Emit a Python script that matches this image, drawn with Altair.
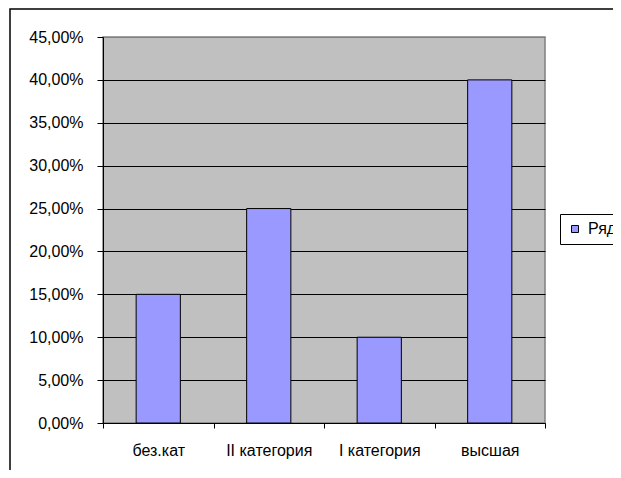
import json
import altair as alt
import pandas as pd

categories = ["без.кат", "II категория", "I категория", "высшая"]
values = [0.15, 0.25, 0.10, 0.40]
series_name = "Ряд1"
y_tick_values = [0, 0.05, 0.10, 0.15, 0.20, 0.25, 0.30, 0.35, 0.40, 0.45]
x_tick_values = [0, 0.5, 1, 1.5, 2, 2.5, 3, 3.5, 4]

df = pd.DataFrame({"cat": categories, "val": values, "series": [series_name] * len(categories)})

FONT = "Liberation Sans"
cats_js = json.dumps(categories, ensure_ascii=False)

bars = (
    alt.Chart(df)
    .transform_window(rn="row_number()")
    .transform_calculate(x0="datum.rn - 0.7", x1="datum.rn - 0.3")
    .mark_bar(stroke="black", strokeWidth=1)
    .encode(
        x=alt.X(
            "x0:Q",
            scale=alt.Scale(domain=[0, 4], nice=False, zero=False),
            axis=alt.Axis(
                values=x_tick_values,
                labelExpr=f"datum.value % 1 ? {cats_js}[floor(datum.value)] : ''",
                tickOpacity={"condition": {"test": "datum.value % 1 === 0", "value": 1}, "value": 0},
                tickSize=5,
                tickColor="black",
                domainColor="black",
                grid=False,
                labelFont=FONT,
                labelFontSize=16,
                labelColor="black",
                labelPadding=14,
                labelOverlap=False,
                labelFlush=False,
                title=None,
            ),
        ),
        x2="x1:Q",
        y=alt.Y(
            "val:Q",
            scale=alt.Scale(domain=[0, 0.45], nice=False),
            axis=alt.Axis(
                values=y_tick_values,
                labelExpr="replace(format(datum.value, '.2%'), '.', ',')",
                grid=True,
                gridColor={"condition": {"test": "datum.value >= 0.449", "value": "#808080"}, "value": "black"},
                gridWidth=1,
                tickSize=6,
                tickColor="black",
                domainColor="black",
                labelFont=FONT,
                labelFontSize=16,
                labelColor="black",
                labelPadding=14,
                labelOverlap=False,
                labelFlush=False,
                title=None,
            ),
        ),
        y2=alt.datum(0),
        fill=alt.Fill(
            "series:N",
            scale=alt.Scale(range=["#9999FF"]),
            legend=alt.Legend(
                orient="none",
                legendX=457,
                legendY=177,
                title=None,
                strokeColor="black",
                fillColor="white",
                padding=7,
                cornerRadius=0,
                symbolType="square",
                symbolSize=49,
                symbolStrokeColor="black",
                symbolStrokeWidth=1,
                labelFont=FONT,
                labelFontSize=16,
                labelColor="black",
                labelOffset=5,
            ),
        ),
    )
)

border = (
    alt.Chart(alt.Data(values=[{"a": 1}]))
    .mark_rect(filled=False, stroke="black", strokeWidth=1.5)
    .encode(x=alt.value(-93), x2=alt.value(700), y=alt.value(-28), y2=alt.value(700))
)

chart = (
    alt.layer(bars, border)
    .properties(
        width=442,
        height=386,
        autosize=alt.AutoSizeParams(type="none"),
        padding={"left": 95, "top": 29, "right": 68, "bottom": 47},
        background="white",
    )
    .configure_view(fill="#C0C0C0", stroke="#808080", strokeWidth=1.5)
)

chart.save("out.html", embed_options={"renderer": "svg", "actions": False})
